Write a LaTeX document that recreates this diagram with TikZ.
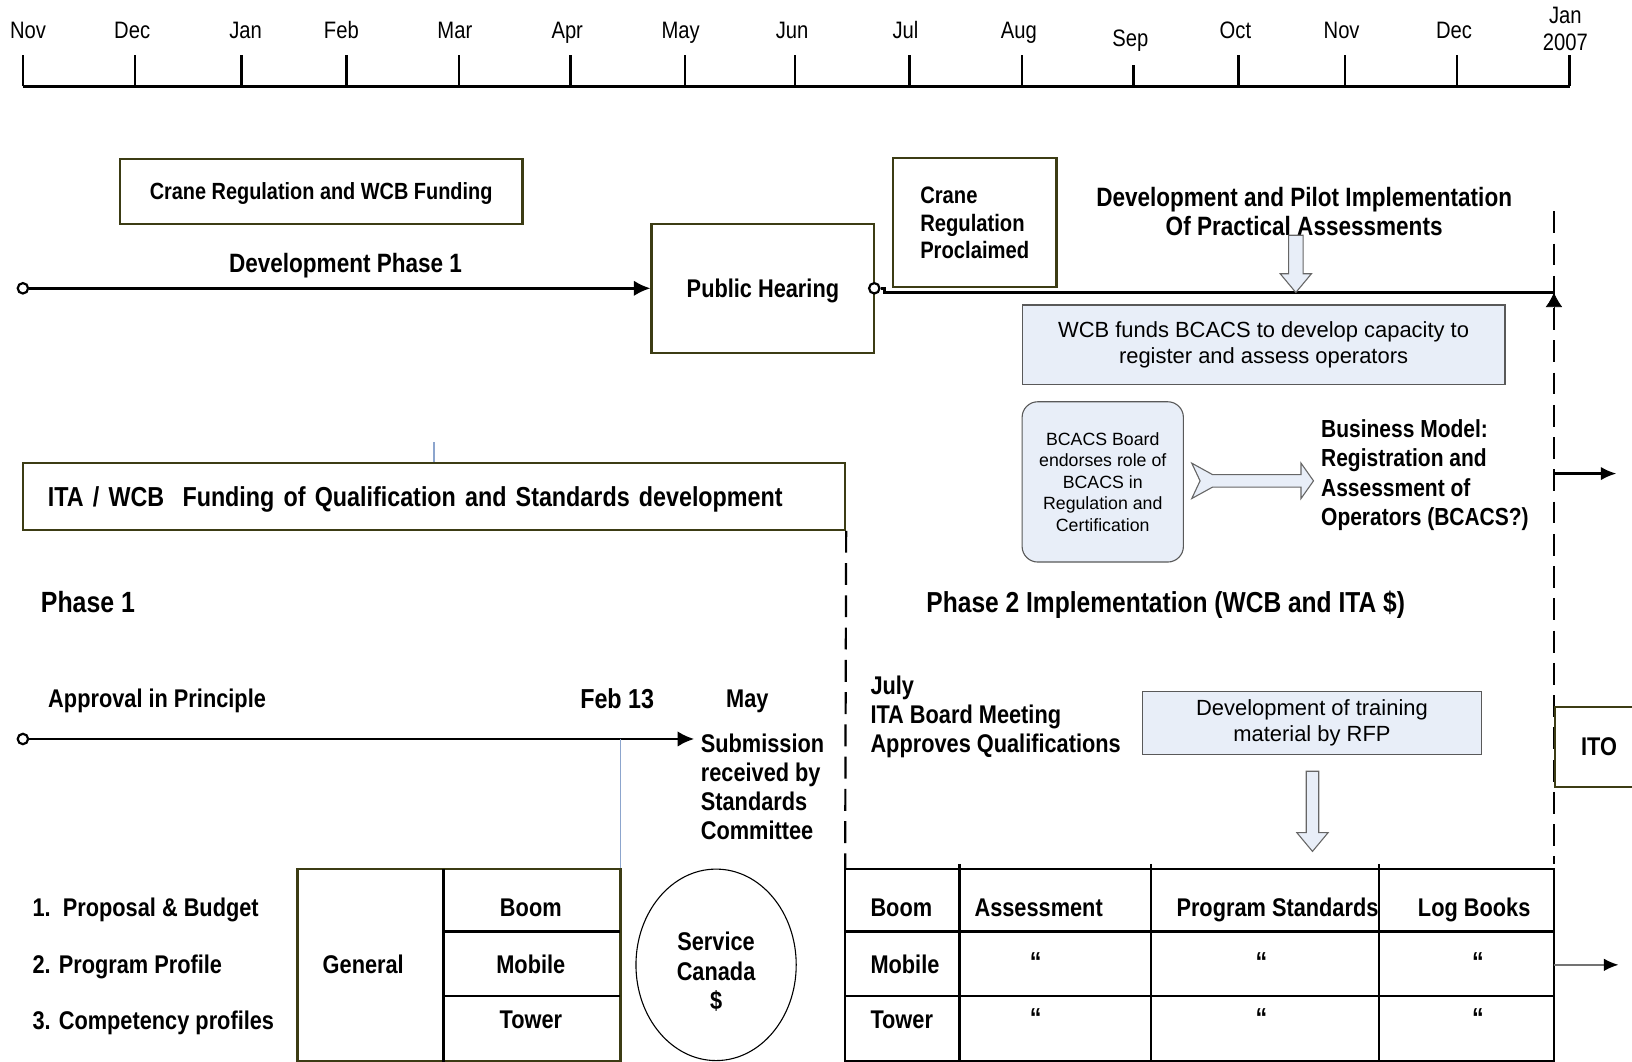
\documentclass[tikz,border=0pt]{standalone}
\usepackage{fontspec}
\setmainfont{Liberation Sans}
\newfontfamily\condfont[FakeStretch=0.85]{Liberation Sans}
\usepackage{tikz}
\usetikzlibrary{arrows.meta,shapes.geometric}
\definecolor{boxline}{RGB}{60,60,20}
\definecolor{paleblue}{RGB}{232,238,248}
\definecolor{thinblue}{RGB}{140,165,205}

\begin{document}
\begin{tikzpicture}[x=0.02cm, y=-0.02cm,
  lbl/.style={font=\condfont\bfseries\fontsize{#1}{15.9}\selectfont, align=left, inner sep=0, text depth=0pt},
  lbl/.default=14,
  month/.style={font=\condfont\fontsize{13}{14.7}\selectfont, inner sep=0, align=center},
  box/.style={draw=boxline, line width=1.2pt, inner sep=0, lbl=#1, align=center},
  box/.default=14,
  bluebox/.style={draw=black!65, fill=paleblue, line width=0.6pt, inner sep=0, align=center, font=\fontsize{12}{14.2}\selectfont},
  dot/.style={circle, draw, line width=1.2pt, fill=white, minimum size=0.2cm, inner sep=0},
  arr/.style={line width=1.5pt, -{Latex[length=0.32cm,width=0.3cm]}},
  hollow/.style={draw=black!60, fill=paleblue, line width=0.6pt},
  dashv/.style={line width=1.2pt, dash pattern=on 0.42cm off 0.2cm},
  tabline/.style={line width=1.3pt}]
\useasboundingbox (0,0) rectangle (1568,1020);

% months
\draw[line width=1.3pt] (22,83) -- (1508,83);
\foreach \x/\lx/\m in {22/27/Nov,130/127/Dec,232/236/Jan,333/328/Feb,441/437/Mar,548/545/Apr,658/654/May,764/761/Jun,874/870/Jul,982/979/Aug,1190/1187/Oct,1292/1289/Nov,1400/1397/Dec}{
  \draw[line width=1.3pt] (\x,83) -- (\x,53);
  \node[month, anchor=base] (m\x) at (\lx,37) {\m};
}
\draw[line width=1.3pt] (1089,83) -- (1089,62);
\node[month, anchor=base] (m1089) at (1086,45) {Sep};
\draw[line width=1.3pt] (1508,83) -- (1508,53);
\node[month] (m1508) at (1504,28) {Jan\\2007};

% development phase 1
\node[box=12.8, minimum width=7.74cm, minimum height=1.24cm] (cranereg) at (308.5,184) {Crane Regulation and WCB Funding};
\node[lbl=14.5] (devphase) at (332,253) {Development Phase 1};
\node[box, minimum width=4.28cm, minimum height=2.48cm] (hearing) at (733,277) {Public Hearing};
\node[dot] (start1) at (22,277) {};
\draw[arr] (start1) -- (hearing);
\node[box=13, minimum width=3.14cm, minimum height=2.48cm, align=left, font=\condfont\bfseries\fontsize{13}{14.8}\selectfont] (proclaimed) at (936.5,214) {Crane\\Regulation\\Proclaimed};

% pilot implementation
\coordinate (pilotend) at (1493,281);
\node[dot] (start2) at (840,277) {};
\draw[line width=1.5pt] (start2.east) -- ++(4,0) -- ++(0,4) -- (pilotend);
\draw[-{Latex[length=0.28cm,width=0.32cm]}] (1493,296) -- (pilotend);
\node[lbl=14.5, align=center] (pilot) at (1253,203) {Development and Pilot Implementation\\Of Practical Assessments};
\draw[hollow] (1238,226) -- (1252,226) -- (1252,263) -- (1260,263) -- (1245,281) -- (1230,263) -- (1238,263) -- cycle;
\node[bluebox, minimum width=9.28cm, minimum height=1.52cm] (funds) at (1214,331) {WCB funds BCACS to develop capacity to\\register and assess operators};
\draw[dashv] (1493,203) -- (1493,830);

\node[bluebox, rounded corners=0.3cm, minimum width=3.1cm, minimum height=3.08cm, font=\fontsize{9.7}{11.8}\selectfont] (board) at (1059.5,463) {BCACS Board\\endorses role of\\BCACS in\\Regulation and\\Certification};
\draw[hollow] (1145,445) -- (1165,456) -- (1250,456) -- (1250,445) -- (1262,462) -- (1250,479) -- (1250,468) -- (1165,468) -- (1145,479) -- (1153,462) -- cycle;
\node[lbl=13.5, anchor=west] (bizmodel) at (1269,454) {Business Model:\\Registration and\\Assessment of\\Operators (BCACS?)};
\coordinate (bizin) at (1493,455);
\coordinate (bizout) at (1553,455);
\draw[line width=1.3pt, -{Latex[length=0.3cm,width=0.26cm]}] (bizin) -- (bizout);

% ITA / WCB phase 1
\node[box=15, minimum width=15.8cm, minimum height=1.28cm, text width=14.84cm, inner xsep=0.48cm, align=left] (itabox) at (417,477) {ITA / WCB\ \ Funding of Qualification and Standards development};
\draw[thinblue, line width=0.6pt] (itabox.north) -- ++(0,-19);
\draw[dashv] (itabox.south east) -- (812,835);
\node[lbl=16, anchor=west] (phase1) at (39,578) {Phase 1};
\node[lbl=15.8] (phase2) at (1120,578) {Phase 2 Implementation (WCB and ITA \$)};
\node[lbl, anchor=west] (approval) at (46,671) {Approval in Principle};
\node[lbl=15] (feb13) at (593,671) {Feb 13};
\node[lbl] (may) at (718,671) {May};
\node[dot] (start3) at (22,710) {};
\coordinate (subm) at (667,710);
\draw[arr] (start3) -- (subm);
\draw[thinblue, line width=0.6pt] (596,710) -- (596,835);
\node[lbl, anchor=west] (submission) at (673,755.5) {Submission\\received by\\Standards\\Committee};

% phase 2
\node[lbl=14, anchor=west] (july) at (836,686) {July\\ITA Board Meeting\\Approves Qualifications};
\node[bluebox, minimum width=6.5cm, minimum height=1.22cm] (training) at (1260.5,694.5) {Development of training\\material by RFP};
\draw[hollow] (1255,741) -- (1267,741) -- (1267,800) -- (1276,800) -- (1261,818) -- (1246,800) -- (1255,800) -- cycle;
\node[box, anchor=west, minimum height=1.54cm, text width=1.2cm, inner xsep=0.5cm, align=left] (ito) at (1493,717.5) {ITO};

% left table
\node[lbl, anchor=west] (item1) at (31,872) {1.\ \ Proposal \& Budget};
\node[lbl, anchor=west] (item2) at (31,926) {2. Program Profile};
\node[lbl, anchor=west] (item3) at (31,980) {3. Competency profiles};
\draw[tabline, draw=boxline] (286,835) rectangle (596,1020);
\draw[tabline] (426,835) -- (426,1020) (426,895) -- (596,895) (426,957) -- (596,957);
\node[lbl] (general) at (349,926) {General};
\node[lbl] (lboom) at (510,872) {Boom};
\node[lbl] (lmobile) at (510,926) {Mobile};
\node[lbl] (ltower) at (510,980) {Tower};
\node[ellipse, draw, line width=0.6pt, minimum width=3.08cm, minimum height=3.68cm] (svc) at (688,927) {};
\node[lbl, align=center, font=\condfont\bfseries\fontsize{14}{16.2}\selectfont] (svctext) at (688,933) {Service\\Canada\\\$};

% right table
\draw[tabline] (812,835) rectangle (1493,1020);
\foreach \x in {922,1106,1325}
  \draw[tabline] (\x,830) -- (\x,1020);
\draw[tabline] (812,895) -- (1493,895) (812,957) -- (1493,957);
\node[lbl, anchor=west] (rboom) at (836,872) {Boom};
\node[lbl, anchor=west] (assess) at (936,872) {Assessment};
\node[lbl, anchor=west] (progstd) at (1130,872) {Program Standards};
\node[lbl, anchor=west] (logbooks) at (1362,872) {Log Books};
\node[lbl, anchor=west] (rmobile) at (836,926) {Mobile};
\node[lbl, anchor=west] (rtower) at (836,980) {Tower};
\foreach \x in {995,1212,1420}{
  \node[lbl=15] (qm\x) at (\x,924) {“};
  \node[lbl=15] (qt\x) at (\x,978) {“};
}
\coordinate (tblin) at (1493,927);
\coordinate (tblout) at (1555,927);
\draw[black!55, line width=0.8pt, -{Latex[length=0.28cm,width=0.24cm,color=black]}] (tblin) -- (tblout);
\end{tikzpicture}
\end{document}
